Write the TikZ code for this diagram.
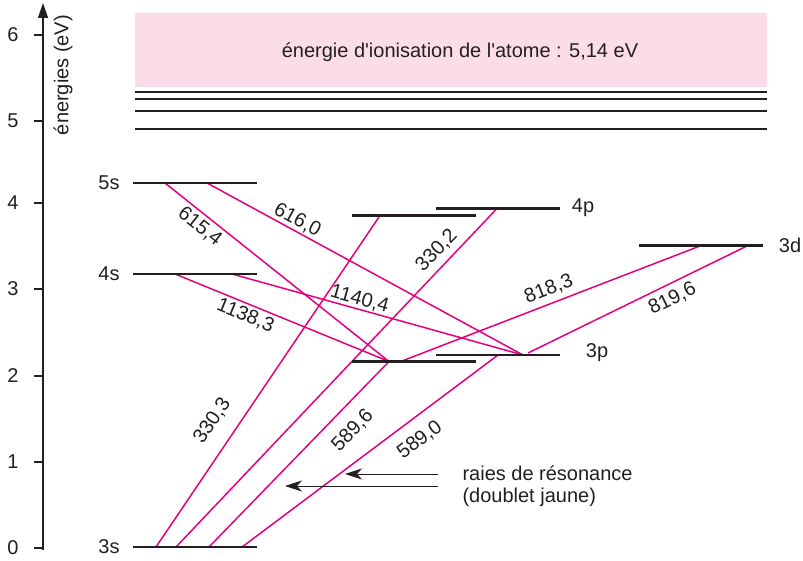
\documentclass[tikz,border=0pt]{standalone}
\usepackage{fontspec}
\setmainfont{Liberation Sans}
\usetikzlibrary{arrows.meta}
\definecolor{mag}{RGB}{229,0,125}
\definecolor{pinkbg}{RGB}{251,221,233}
\definecolor{lvl}{RGB}{35,31,32}
\begin{document}
\begin{tikzpicture}[x=1pt,y=-1pt,
  every node/.style={font=\fontsize{20}{22}\selectfont, text=lvl},
  level/.style={draw=lvl, line width=2.4pt},
  ionlvl/.style={draw=lvl, line width=1.6pt},
  trans/.style={draw=mag, line width=1.5pt},
  lab/.style={sloped, inner sep=0pt},
  tick/.style={draw=lvl, line width=1.3pt},
  pointer/.style={draw=lvl, line width=0.9pt, -{Stealth[length=17pt,width=11pt,inset=5pt]}}
]
\useasboundingbox (0,0) rectangle (803,561);

% ionisation band
\fill[pinkbg] (135,13) rectangle (767,87);
\node (ion) at (460,52) {énergie d\textquotesingle ionisation de l\textquotesingle atome : 5,14 eV};
\coordinate (u1L) at (135,92);  \coordinate (u1R) at (767,92);
\coordinate (u2L) at (135,99);  \coordinate (u2R) at (767,99);
\coordinate (u3L) at (135,111); \coordinate (u3R) at (767,111);
\coordinate (u4L) at (135,129); \coordinate (u4R) at (767,129);
\draw[ionlvl, line width=2.2pt] (u1L) -- (u1R);
\draw[ionlvl] (u2L) -- (u2R);
\draw[ionlvl] (u3L) -- (u3R);
\draw[ionlvl] (u4L) -- (u4R);

% axis
\coordinate (ax0) at (43,550);
\coordinate (axT) at (43,3);
\draw[draw=lvl, line width=1.3pt, -{Triangle[length=15pt,width=10pt]}] (ax0) -- (axT);
\foreach \v/\yy in {0/548,1/462,2/376,3/289,4/203,5/121,6/35}{
  \coordinate (tk\v) at (34,\yy);
  \coordinate (ta\v) at (43,\yy);
  \draw[tick] (tk\v) -- (ta\v);
  \node (tl\v) at (13,\yy) {\v};
}
\node[rotate=90] (axlab) at (63,75) {énergies (eV)};

% level end points
\coordinate (s3L) at (133,547);   \coordinate (s3R) at (257,547);
\coordinate (s4L) at (133,274);   \coordinate (s4R) at (257,274);
\coordinate (s5L) at (133,183);   \coordinate (s5R) at (257,183);
\coordinate (p3aL) at (352,361.5);\coordinate (p3aR) at (476,361.5);
\coordinate (p3bL) at (436,355);  \coordinate (p3bR) at (560,355);
\coordinate (p4aL) at (352,215.5);\coordinate (p4aR) at (476,215.5);
\coordinate (p4bL) at (436,208.5);\coordinate (p4bR) at (560,208.5);
\coordinate (d3L) at (639,245.5); \coordinate (d3R) at (763,245.5);

% transition end points
\coordinate (a5s) at (165,183);   \coordinate (b5s) at (207,183);
\coordinate (a4s) at (175,274);   \coordinate (b4s) at (232,274);
\coordinate (a3s) at (156,547);   \coordinate (b3s) at (176,547);
\coordinate (c3s) at (209,547);   \coordinate (d3s) at (242,547);
\coordinate (a3p) at (389,361.5); \coordinate (b3p) at (402,361);
\coordinate (c3p) at (523,355);   \coordinate (d3p) at (498,355);
\coordinate (e3p) at (528,353);
\coordinate (a4p) at (380,215.5); \coordinate (b4p) at (497,208.5);
\coordinate (a3d) at (700,246);   \coordinate (b3d) at (747,246);

% transitions
\draw[trans] (a5s) -- node[lab, pos=.19, below=3.3pt] (w6154) {615,4} (a3p);
\draw[trans] (b5s) -- node[lab, pos=.27, above=1.5pt] (w6160) {616,0} (c3p);
\draw[trans] (a4s) -- node[lab, pos=.35, below=2.9pt] (w1138) {1138,3} (a3p);
\draw[trans] (b4s) -- node[lab, pos=.43, above=0.7pt] (w1140) {1140,4} (c3p);
\draw[trans] (a3s) -- node[lab, pos=.34, above=15pt] (w3303) {330,3} (a4p);
\draw[trans] (b3s) -- node[lab, pos=.845, above=5.7pt] (w3302) {330,2} (b4p);
\draw[trans] (c3s) -- node[lab, pos=.71, below=13pt] (w5896) {589,6} (a3p);
\draw[trans] (d3s) -- node[lab, pos=.645, below=12pt] (w5890) {589,0} (d3p);
\draw[trans] (b3p) -- node[lab, pos=.51, above=5.5pt] (w8183) {818,3} (a3d);
\draw[trans] (e3p) -- node[lab, pos=.63, below=5.7pt] (w8196) {819,6} (b3d);

% levels
\draw[level] (s3L) -- (s3R);
\draw[level] (s4L) -- (s4R);
\draw[level] (s5L) -- (s5R);
\draw[level] (p3aL) -- (p3aR);
\draw[level] (p3bL) -- (p3bR);
\draw[level] (p4aL) -- (p4aR);
\draw[level] (p4bL) -- (p4bR);
\draw[level] (d3L) -- (d3R);

\node (n3s) at (109,547) {3s};
\node (n4s) at (109,274) {4s};
\node (n5s) at (109,183) {5s};
\node (n3p) at (597,353) {3p};
\node (n4p) at (583,208) {4p};
\node (n3d) at (790,245) {3d};

% resonance lines
\node[anchor=base west, align=left] (res) at (459,502) {raies de résonance\\(doublet jaune)};
\coordinate (r1) at (438,474); \coordinate (r1t) at (345,474);
\coordinate (r2) at (438,486); \coordinate (r2t) at (285,486);
\draw[pointer] (r1) -- (r1t);
\draw[pointer] (r2) -- (r2t);
\end{tikzpicture}
\end{document}
